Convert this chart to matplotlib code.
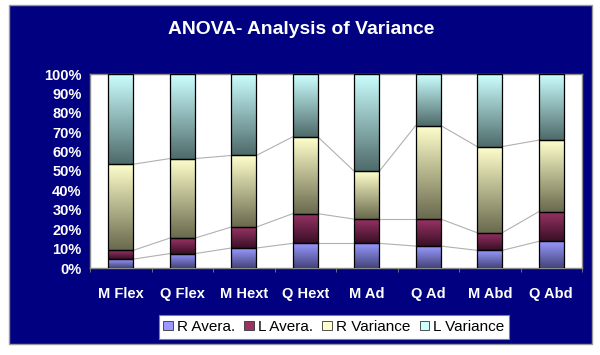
import numpy as np
import matplotlib.pyplot as plt
from matplotlib.patches import Rectangle
from matplotlib.colors import LinearSegmentedColormap
from matplotlib.ticker import FuncFormatter

categories = ['M Flex', 'Q Flex', 'M Hext', 'Q Hext', 'M Ad', 'Q Ad', 'M Abd', 'Q Abd']
series = ['R Avera.', 'L Avera.', 'R Variance', 'L Variance']
r_avera = [4.6, 7.4, 10.3, 12.7, 12.7, 11.3, 9.1, 13.7]
l_avera = [4.5, 8.0, 10.8, 15.3, 12.5, 13.9, 9.1, 15.3]
r_variance = [44.4, 41.0, 36.9, 39.6, 24.7, 48.2, 44.4, 36.9]
l_variance = [46.5, 43.6, 42.0, 32.4, 50.1, 26.6, 37.4, 34.1]

# top colour -> bottom colour of each gradient
colors = [('#9999ff', '#44447a'), ('#993366', '#3a1026'),
          ('#ffffcc', '#6a6a4e'), ('#ccffff', '#4f6b6b')]

plt.rcParams['font.family'] = ['Liberation Sans', 'DejaVu Sans']

fig = plt.figure(figsize=(6, 3.55), dpi=100)
fig.patch.set_facecolor('white')
fig.patches.append(Rectangle((9 / 600, 1 - 344 / 355), 583 / 600, 339 / 355,
                             transform=fig.transFigure, facecolor='#000080',
                             edgecolor='#9a9a9a', linewidth=1, zorder=-5))

ax = fig.add_axes([90 / 600, 1 - 268 / 355, 492 / 600, 194 / 355])
ax.set_facecolor('white')

data = np.array([r_avera, l_avera, r_variance, l_variance])
totals = data.sum(axis=0)
pct = data / totals * 100
x = np.arange(len(categories))
width = 0.41

bottoms = np.zeros(len(categories))
for i, name in enumerate(series):
    cmap = LinearSegmentedColormap.from_list(name, [colors[i][1], colors[i][0]])
    bars = ax.bar(x, pct[i], width, bottom=bottoms, color='none',
                  edgecolor='black', linewidth=0.9, zorder=3, label=name)
    for b in bars:
        x0, y0 = b.get_x(), b.get_y()
        grad = np.linspace(0, 1, 64).reshape(-1, 1)
        ax.imshow(grad, cmap=cmap, origin='lower', aspect='auto',
                  extent=(x0, x0 + b.get_width(), y0, y0 + b.get_height()),
                  zorder=2, interpolation='bilinear')
    bottoms = bottoms + pct[i]
    # series lines between bars
    if i < 3:
        for j in range(len(categories) - 1):
            ax.plot([x[j] + width / 2, x[j + 1] - width / 2],
                    [bottoms[j], bottoms[j + 1]], color='#b0b0b0',
                    linewidth=0.8, zorder=1)

ax.set_xlim(-0.5, len(categories) - 0.5)
ax.set_ylim(0, 100)
ax.set_yticks(np.arange(0, 101, 10))
ax.yaxis.set_major_formatter(FuncFormatter(lambda v, p: f'{int(v)}%'))
ax.set_xticks(x)
ax.set_xticklabels(categories)
ax.set_xticks(np.arange(-0.5, len(categories)), minor=True)
ax.tick_params(axis='x', which='major', length=0, pad=14, colors='white',
               labelsize=10.5)
ax.tick_params(axis='x', which='minor', length=3, color='#808080', direction='out')
ax.tick_params(axis='y', length=0, pad=6, colors='white', labelsize=10.5)
for lab in ax.get_xticklabels() + ax.get_yticklabels():
    lab.set_fontweight('bold')
for s in ax.spines.values():
    s.set_color('#8c8c8c')
    s.set_linewidth(1)

fig.text(301 / 600, 1 - 29 / 355, 'ANOVA- Analysis of Variance', color='white',
         fontsize=13.9, fontweight='bold', ha='center', va='center')

handles = [Rectangle((0, 0), 1, 1, facecolor=c[0], edgecolor='#333333',
                     linewidth=0.6) for c in colors]
leg = fig.legend(handles, series, loc='center', bbox_to_anchor=(334 / 600, 1 - 327 / 355),
                 ncol=4, frameon=True, fancybox=False, fontsize=11,
                 handlelength=0.6, handleheight=0.6, handletextpad=0.3,
                 columnspacing=0.6, borderpad=0.3, borderaxespad=0, framealpha=1)
leg.get_frame().set_facecolor('white')
leg.get_frame().set_edgecolor('#808080')
leg.get_frame().set_linewidth(0.8)

fig.savefig('out.png', dpi=100, facecolor='white')
